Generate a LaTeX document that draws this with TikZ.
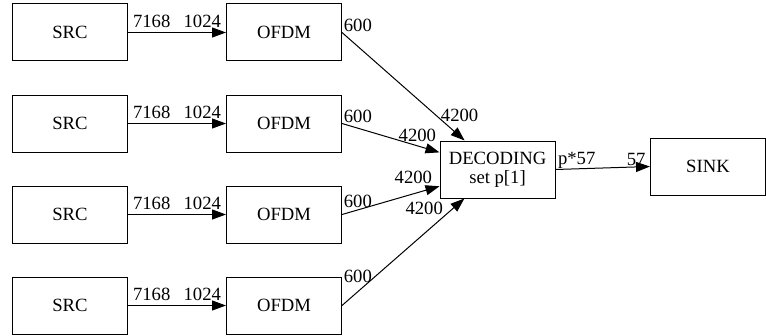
\documentclass[tikz,border=0pt]{standalone}
\usepackage{fontspec}
\setmainfont{Liberation Serif}
\usetikzlibrary{arrows.meta}

\begin{document}
\begin{tikzpicture}[x=0.75pt,y=-0.75pt,
  box/.style={draw,line width=0.75pt,minimum width=86.25pt,minimum height=42.75pt,
    inner sep=0pt,align=center,font=\fontsize{14}{14}\selectfont},
  lbl/.style={inner sep=0pt,font=\fontsize{14}{14}\selectfont},
  flow/.style={line width=0.75pt,-{Triangle[length=10.5pt,width=7.5pt]}}]
  \useasboundingbox (0,0) rectangle (766,335);

  % sources and modulators
  \node[box] (src1) at (70,32.5) {SRC};
  \node[box] (src2) at (70,123.5) {SRC};
  \node[box] (src3) at (70,214.5) {SRC};
  \node[box] (src4) at (70,305.5) {SRC};
  \node[box] (ofdm1) at (284,32.5) {OFDM};
  \node[box] (ofdm2) at (284,123.5) {OFDM};
  \node[box] (ofdm3) at (284,214.5) {OFDM};
  \node[box] (ofdm4) at (284,305.5) {OFDM};

  \node[box] (dec) at (497.5,169.5) {DECODING\\set p[1]};
  \node[box] (sink) at (708,166.5) {SINK};

  \draw[flow] (src1.east)
    -- node[lbl,at start,anchor=base west,xshift=3.4pt,yshift=4.1pt] {7168}
       node[lbl,at end,anchor=base east,xshift=-3.4pt,yshift=4.1pt] {1024} (ofdm1.west);
  \draw[flow] (src2.east)
    -- node[lbl,at start,anchor=base west,xshift=3.4pt,yshift=4.1pt] {7168}
       node[lbl,at end,anchor=base east,xshift=-3.4pt,yshift=4.1pt] {1024} (ofdm2.west);
  \draw[flow] (src3.east)
    -- node[lbl,at start,anchor=base west,xshift=3.4pt,yshift=4.1pt] {7168}
       node[lbl,at end,anchor=base east,xshift=-3.4pt,yshift=4.1pt] {1024} (ofdm3.west);
  \draw[flow] (src4.east)
    -- node[lbl,at start,anchor=base west,xshift=3.4pt,yshift=4.1pt] {7168}
       node[lbl,at end,anchor=base east,xshift=-3.4pt,yshift=4.1pt] {1024} (ofdm4.west);

  % into the decoder
  \draw[flow] (ofdm1.east)
    -- node[lbl,at start,anchor=base west,xshift=1pt,yshift=0.4pt] {600}
       node[lbl,at end,anchor=base,xshift=-3.75pt,yshift=14.25pt] {4200} (dec);
  \draw[flow] (ofdm2.east)
    -- node[lbl,at start,anchor=base west,xshift=1pt,yshift=0.4pt] {600}
       node[lbl,at end,anchor=base east,xshift=-2.25pt,yshift=7.8pt] {4200} (dec);
  \draw[flow] (ofdm3.east)
    -- node[lbl,at start,anchor=base west,xshift=1pt,yshift=4.9pt] {600}
       node[lbl,at end,anchor=base east,xshift=-5.25pt,yshift=2.4pt] {4200} (dec);
  \draw[flow] (ofdm4.east)
    -- node[lbl,at start,anchor=base west,xshift=1pt,yshift=16.9pt] {600}
       node[lbl,at end,anchor=base east,xshift=-15.75pt,yshift=-12pt] {4200} (dec);

  \draw[flow] (dec.east)
    -- node[lbl,at start,anchor=base west,xshift=1.5pt,yshift=4pt] {p*57}
       node[lbl,at end,anchor=base east,xshift=-3pt,yshift=1.1pt] {57} (sink.west);
\end{tikzpicture}
\end{document}
